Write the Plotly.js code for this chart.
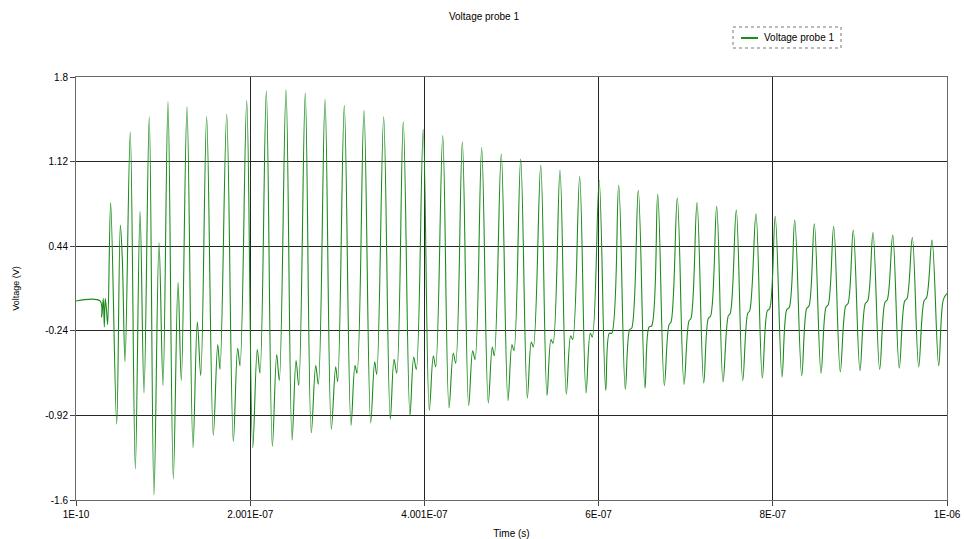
<!DOCTYPE html>
<html>
<head>
<meta charset="utf-8">
<script src="https://cdn.plot.ly/plotly-3.0.1.min.js"></script>
<style>html,body{margin:0;padding:0;background:#fff;}#chart{width:964px;height:539px;}</style>
</head>
<body>
<div id="chart"></div>
<script>
// Time in nanoseconds, voltage in volts
const timeNs = [0.1, 27.7, 29.6, 31.4, 32.6, 33.7, 35.3, 36.5, 39.9,
  46.8, 51.0, 53.3, 56.4,
  62.4, 68.2, 73.6, 78.2, 84.2, 89.6, 95.4, 100.0, 105.7, 111.8, 117.2, 121.0,
  127.5, 134.4, 139.4, 143.3, 150.1, 157.7, 162.8, 165.4, 173.1, 180.7, 185.7, 188.4,
  196.1, 203.0, 208.2, 211.3, 218.6, 225.5, 230.5, 233.5, 241.2, 248.1, 252.7, 255.8,
  263.3, 270.2, 275.3, 278.3, 286.0, 293.2, 298.2, 300.5, 308.1, 315.8, 320.4, 322.7,
  330.7, 338.4, 343.0, 345.3, 353.3, 360.9, 365.2, 368.3, 375.8, 383.5, 387.8, 390.8,
  398.7, 405.7, 410.3, 413.0, 421.1, 428.3, 433.2, 436.0, 443.6, 450.9, 455.5, 458.2,
  465.8, 473.4, 478.0, 480.3, 488.3, 496.0, 500.6, 502.9, 510.6, 518.2, 522.8, 525.1,
  533.6, 540.8, 545.4, 547.7, 555.7, 563.0, 568.0, 570.3, 578.3, 585.6, 590.5, 592.8,
  600.7, 608.2, 612.3, 615.1, 623.1, 630.7, 635.7, 638.0, 645.6, 653.3, 657.9, 661.0,
  667.9, 675.5, 680.9, 683.2, 690.4, 698.1, 703.8, 706.1, 713.0, 720.7, 726.0, 728.7,
  735.6, 742.9, 748.9, 751.2, 758.1, 765.5, 771.2, 773.5, 780.7, 788.0, 793.7, 796.5,
  802.8, 810.6, 816.0, 819.0, 825.2, 833.2, 838.9, 841.6, 847.7, 855.4, 861.1, 863.7,
  869.9, 877.5, 883.7, 886.4, 892.4, 900.1, 906.2, 909.0, 915.0, 922.7, 928.8, 931.5,
  937.7, 945.2, 951.4, 954.1, 960.2, 967.5, 973.6, 976.7, 982.8, 990.5, 995.8, 1000.0];

const voltage = [0.00, 0.00, -0.13, 0.02, -0.21, 0.02, -0.09, -0.19, 0.79,
  -0.99, 0.61, 0.33, -0.49,
  1.36, -1.35, 0.72, -0.74, 1.48, -1.56, 0.47, -0.68, 1.60, -1.43, 0.15, -0.64,
  1.56, -1.18, -0.17, -0.60, 1.48, -1.08, -0.35, -0.55, 1.50, -1.13, -0.38, -0.52,
  1.61, -1.18, -0.39, -0.58, 1.69, -1.17, -0.43, -0.64, 1.70, -1.12, -0.48, -0.68,
  1.67, -1.06, -0.52, -0.67, 1.62, -1.03, -0.53, -0.65, 1.57, -1.00, -0.52, -0.58,
  1.53, -0.98, -0.49, -0.59, 1.48, -0.95, -0.47, -0.58, 1.44, -0.92, -0.45, -0.55,
  1.38, -0.88, -0.44, -0.53, 1.33, -0.86, -0.42, -0.50, 1.28, -0.84, -0.40, -0.47,
  1.23, -0.82, -0.37, -0.44, 1.18, -0.80, -0.35, -0.40, 1.14, -0.78, -0.33, -0.37,
  1.09, -0.76, -0.31, -0.34, 1.05, -0.75, -0.28, -0.31, 1.00, -0.74, -0.26, -0.29,
  0.97, -0.72, -0.26, -0.26, 0.93, -0.71, -0.23, -0.22, 0.89, -0.70, -0.21, -0.20,
  0.86, -0.68, -0.19, -0.17, 0.83, -0.67, -0.16, -0.14, 0.79, -0.66, -0.14, -0.12,
  0.76, -0.65, -0.12, -0.10, 0.73, -0.64, -0.10, -0.08, 0.70, -0.62, -0.08, -0.06,
  0.68, -0.61, -0.07, -0.05, 0.65, -0.60, -0.06, -0.04, 0.62, -0.58, -0.05, -0.03,
  0.60, -0.57, -0.04, -0.02, 0.57, -0.56, -0.02, 0.00, 0.55, -0.55, -0.01, 0.01,
  0.53, -0.54, 0.00, 0.02, 0.51, -0.53, 0.00, 0.03, 0.49, -0.52, 0.01, 0.06];

const xTickVals = [1e-10, 2.001e-7, 4.001e-7, 6e-7, 8e-7, 1e-6];
const xTickText = ['1E-10', '2.001E-07', '4.001E-07', '6E-07', '8E-07', '1E-06'];
const yTickVals = [-1.6, -0.92, -0.24, 0.44, 1.12, 1.8];
const yTickText = ['-1.6', '-0.92', '-0.24', '0.44', '1.12', '1.8'];

const seriesName = 'Voltage probe 1';
const timeSec = timeNs.map(t => t * 1e-9);

const FONT = 'Liberation Sans, Arial, sans-serif';
const LINE_COLOR = '#1d8c1d';

// plot area in pixels: left 76, right 947, top 77, bottom 500
const PX0 = 76, PW = 871, PY1 = 500, PH = 423;
const px = x => (x - PX0) / PW;
const py = y => (PY1 - y) / PH;

const trace = {
  x: timeSec,
  y: voltage,
  type: 'scatter',
  mode: 'lines',
  name: seriesName,
  line: {color: LINE_COLOR, width: 1.1, shape: 'spline', smoothing: 1.0},
  showlegend: false
};

const layout = {
  width: 964,
  height: 539,
  margin: {l: 76, r: 17, t: 77, b: 39},
  paper_bgcolor: '#ffffff',
  plot_bgcolor: '#ffffff',
  font: {family: FONT, size: 10, color: '#000'},
  title: {text: 'Voltage probe 1', x: 0.502, xanchor: 'center', y: 0.97, yanchor: 'middle',
          font: {family: FONT, size: 10, color: '#000'}},
  showlegend: false,
  xaxis: {
    range: [1e-10, 1e-6],
    tickmode: 'array', tickvals: xTickVals, ticktext: xTickText,
    showgrid: true, gridcolor: '#262626', gridwidth: 1,
    zeroline: false,
    showline: true, linecolor: '#6a6a6a', linewidth: 1, mirror: true,
    ticks: 'outside', ticklen: 5, tickcolor: '#444',
    tickfont: {family: FONT, size: 10, color: '#000'},
    title: {text: 'Time (s)', standoff: 14, font: {family: FONT, size: 10, color: '#000'}},
    automargin: false,
    fixedrange: true
  },
  yaxis: {
    range: [-1.6, 1.8],
    tickmode: 'array', tickvals: yTickVals, ticktext: yTickText,
    showgrid: true, gridcolor: '#262626', gridwidth: 1,
    zeroline: false,
    showline: true, linecolor: '#6a6a6a', linewidth: 1, mirror: true,
    ticks: 'outside', ticklen: 5, tickcolor: '#444',
    tickfont: {family: FONT, size: 10, color: '#000'},
    title: {text: 'Voltage (V)', standoff: 24, font: {family: FONT, size: 9, color: '#000'}},
    automargin: false,
    fixedrange: true
  },
  shapes: [
    {type: 'rect', xref: 'paper', yref: 'paper',
     x0: px(733), x1: px(841), y0: py(48), y1: py(27),
     line: {color: '#777', width: 1, dash: 'dot'}, fillcolor: 'rgba(0,0,0,0)'},
    {type: 'line', xref: 'paper', yref: 'paper',
     x0: px(741), x1: px(758), y0: py(38), y1: py(38),
     line: {color: LINE_COLOR, width: 2}}
  ],
  annotations: [
    {text: seriesName, xref: 'paper', yref: 'paper', x: px(762), y: py(38),
     xanchor: 'left', yanchor: 'middle', showarrow: false,
     font: {family: FONT, size: 10, color: '#000'}}
  ]
};

Plotly.newPlot('chart', [trace], layout, {displayModeBar: false, staticPlot: true});
</script>
</body>
</html>
